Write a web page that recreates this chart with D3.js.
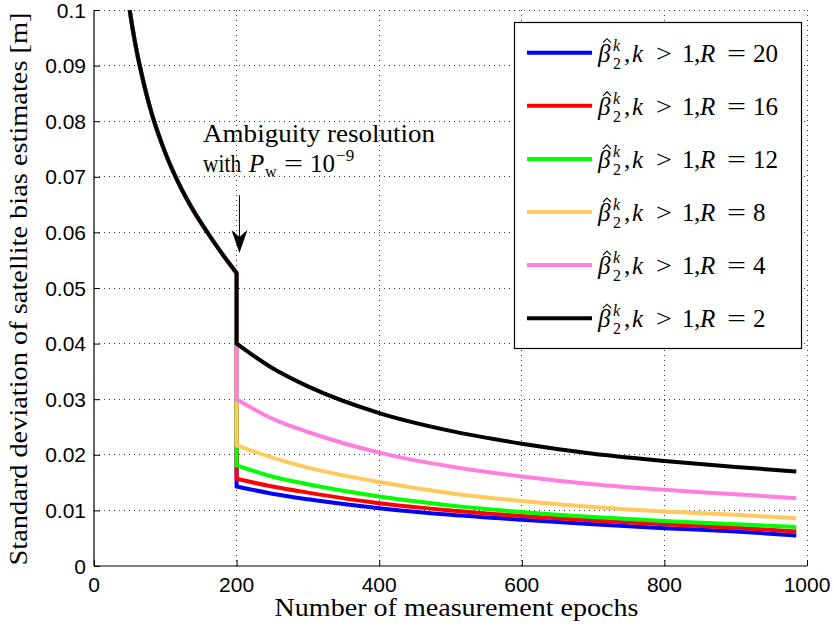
<!DOCTYPE html>
<html>
<head>
<meta charset="utf-8">
<script src="https://cdn.jsdelivr.net/npm/d3@7"></script>
<style>
  html, body { margin: 0; padding: 0; background: #fff; }
  svg { display: block; }
</style>
</head>
<body>
<svg id="chart" width="834" height="630"></svg>
<script>
// Float solution: shared curve before ambiguity resolution (epochs 50..200)
const epochsFloat = [50, 55, 60, 65, 70, 80, 90, 100, 120, 140, 160, 180, 200];
const sigmaFloat  = [0.1000, 0.0960, 0.0925, 0.0895, 0.0867, 0.0818, 0.0778, 0.0743, 0.0685, 0.0638, 0.0598, 0.0561, 0.0527];

// Fixed solution after ambiguity resolution, one series per R
const epochsFixed = [200, 250, 300, 400, 500, 600, 700, 800, 900, 985];
const sigmaR20 = [0.0143, 0.0130, 0.0120, 0.0104, 0.0092, 0.0083, 0.0075, 0.0068, 0.0062, 0.0055];
const sigmaR16 = [0.0157, 0.0143, 0.0132, 0.0113, 0.0100, 0.0090, 0.0082, 0.0075, 0.0069, 0.0062];
const sigmaR12 = [0.0181, 0.0161, 0.0147, 0.0125, 0.0109, 0.0097, 0.0088, 0.0081, 0.0075, 0.0070];
const sigmaR8  = [0.0217, 0.0195, 0.0177, 0.0151, 0.0131, 0.0117, 0.0106, 0.0098, 0.0092, 0.0086];
const sigmaR4  = [0.0300, 0.0265, 0.0241, 0.0204, 0.0179, 0.0161, 0.0147, 0.0137, 0.0129, 0.0122];
const sigmaR2  = [0.0400, 0.0356, 0.0323, 0.0275, 0.0243, 0.0220, 0.0202, 0.0189, 0.0178, 0.0170];

const seriesR      = [20, 16, 12, 8, 4, 2];
const seriesValues = [sigmaR20, sigmaR16, sigmaR12, sigmaR8, sigmaR4, sigmaR2];
const seriesColors = ["#0000ff", "#ff0000", "#00ff00", "#ffc95c", "#ff7fdf", "#000000"];

const xTicks = [0, 200, 400, 600, 800, 1000];
const yTicks = [0, 0.01, 0.02, 0.03, 0.04, 0.05, 0.06, 0.07, 0.08, 0.09, 0.1];

const svg = d3.select("#chart");
const plotLeft = 94, plotRight = 807, plotTop = 10, plotBottom = 566;

const x = d3.scaleLinear().domain([0, 1000]).range([plotLeft, plotRight]);
const y = d3.scaleLinear().domain([0, 0.1]).range([plotBottom, plotTop]);

const gridColor = "#3a3a3a";

// dotted grid
svg.append("g").selectAll("line").data(xTicks.slice(1)).join("line")
  .attr("x1", d => x(d)).attr("x2", d => x(d))
  .attr("y1", plotTop).attr("y2", plotBottom)
  .attr("stroke", gridColor).attr("stroke-width", 1)
  .attr("stroke-dasharray", "1,4").attr("shape-rendering", "crispEdges");
svg.append("g").selectAll("line").data(yTicks.slice(1)).join("line")
  .attr("x1", plotLeft).attr("x2", plotRight)
  .attr("y1", d => y(d)).attr("y2", d => y(d))
  .attr("stroke", gridColor).attr("stroke-width", 1)
  .attr("stroke-dasharray", "1,4").attr("shape-rendering", "crispEdges");

// axes (ticks pointing inward)
const xAxis = d3.axisTop(x).tickValues(xTicks).tickSize(6).tickFormat("");
const yAxis = d3.axisRight(y).tickValues(yTicks).tickSize(6).tickFormat("");
const gx = svg.append("g").attr("transform", `translate(0,${plotBottom})`).call(xAxis);
const gy = svg.append("g").attr("transform", `translate(${plotLeft},0)`).call(yAxis);
[gx, gy].forEach(g => {
  g.select(".domain").attr("stroke", "#000").attr("stroke-width", 1.2);
  g.selectAll(".tick line").attr("stroke", "#000");
});
gx.select(".domain").attr("d", `M${plotLeft},0H${plotRight}`);
gy.select(".domain").attr("d", `M0,${plotTop}V${plotBottom}`);

// tick labels
const tickFont = "'Liberation Sans', Arial, sans-serif";
svg.append("g").selectAll("text").data(xTicks).join("text")
  .attr("x", d => x(d)).attr("y", plotBottom + 26)
  .attr("text-anchor", "middle")
  .attr("font-family", tickFont).attr("font-size", 21)
  .text(d => d);
svg.append("g").selectAll("text").data(yTicks).join("text")
  .attr("x", plotLeft - 8).attr("y", d => y(d) + 7.5)
  .attr("text-anchor", "end")
  .attr("font-family", tickFont).attr("font-size", 21)
  .text(d => d3.format("~g")(d));

// axis titles
const serif = "'Liberation Serif', 'Times New Roman', serif";
svg.append("text")
  .attr("x", (plotLeft + plotRight) / 2 + 6).attr("y", 616)
  .attr("text-anchor", "middle")
  .attr("font-family", serif).attr("font-size", 25)
  .attr("textLength", 364).attr("lengthAdjust", "spacingAndGlyphs")
  .text("Number of measurement epochs");
svg.append("text")
  .attr("transform", `translate(27,${(plotTop + plotBottom) / 2 + 1}) rotate(-90)`)
  .attr("text-anchor", "middle")
  .attr("font-family", serif).attr("font-size", 25)
  .attr("textLength", 553).attr("lengthAdjust", "spacingAndGlyphs")
  .text("Standard deviation of satellite bias estimates [m]");

// curves
svg.append("clipPath").attr("id", "plot-clip")
  .append("rect").attr("x", plotLeft).attr("y", plotTop)
  .attr("width", plotRight - plotLeft).attr("height", plotBottom - plotTop);

const line = d3.line().x(d => x(d[0])).y(d => y(d[1])).curve(d3.curveMonotoneX);
const floatPts = epochsFloat.map((e, i) => [e, sigmaFloat[i]]);

const curves = svg.append("g").attr("clip-path", "url(#plot-clip)");
seriesValues.forEach((vals, si) => {
  const fixedPts = epochsFixed.map((e, i) => [e, vals[i]]);
  const d = line(floatPts) + "L" + line(fixedPts).slice(1);
  curves.append("path")
    .attr("d", d)
    .attr("fill", "none")
    .attr("stroke", seriesColors[si])
    .attr("stroke-width", 4)
    .attr("stroke-linejoin", "miter");
});

// annotation: ambiguity resolution
const annX = 153, annLine1 = 0.0762, annLine2 = 0.0708;
const arrowEpoch = 204, arrowFrom = 0.0667, arrowTo = 0.0563;
const ann = svg.append("g").attr("font-family", serif).attr("font-size", 25);
const a0 = x(annX), b1 = y(annLine1), b2 = y(annLine2);
ann.append("text").attr("x", a0).attr("y", b1)
  .attr("textLength", 232).attr("lengthAdjust", "spacingAndGlyphs")
  .text("Ambiguity resolution");
ann.append("text").attr("x", a0).attr("y", b2)
  .attr("textLength", 38).attr("lengthAdjust", "spacingAndGlyphs").text("with");
ann.append("text").attr("x", a0 + 46).attr("y", b2).attr("font-style", "italic").text("P");
ann.append("text").attr("x", a0 + 62).attr("y", b2 + 5).attr("font-size", 16).text("w");
ann.append("text").attr("x", a0 + 81).attr("y", b2)
  .attr("textLength", 19).attr("lengthAdjust", "spacingAndGlyphs").text("=");
ann.append("text").attr("x", a0 + 107).attr("y", b2).text("10");
ann.append("text").attr("x", a0 + 133).attr("y", b2 - 11).attr("font-size", 17).text("−9");

const ax = x(arrowEpoch), ay0 = y(arrowFrom), ay1 = y(arrowTo);
svg.append("line").attr("x1", ax).attr("x2", ax).attr("y1", ay0).attr("y2", ay1 - 14)
  .attr("stroke", "#000").attr("stroke-width", 1);
svg.append("path")
  .attr("d", `M${ax},${ay1} L${ax - 8},${ay1 - 23} L${ax},${ay1 - 16} L${ax + 8},${ay1 - 23} Z`)
  .attr("fill", "#000");

// legend
const lg = svg.append("g");
lg.append("rect").attr("x", 514.5).attr("y", 22.5).attr("width", 287).attr("height", 326)
  .attr("fill", "#fff").attr("stroke", "#000").attr("stroke-width", 1.2);

seriesR.forEach((R, i) => {
  const cy = 52.7 + i * 53.1;
  const g = lg.append("g").attr("font-family", serif).attr("font-size", 25);
  g.append("line").attr("x1", 527).attr("x2", 592).attr("y1", cy).attr("y2", cy)
    .attr("stroke", seriesColors[i]).attr("stroke-width", 4);
  const tx = 598, by = cy + 9;
  g.append("text").attr("x", tx).attr("y", by).attr("font-style", "italic").text("β");
  // circumflex accent over beta
  g.append("path")
    .attr("d", `M${tx + 5},${by - 19} L${tx + 9},${by - 23} L${tx + 13},${by - 19}`)
    .attr("fill", "none").attr("stroke", "#000").attr("stroke-width", 1.1);
  g.append("text").attr("x", tx + 15).attr("y", by - 11).attr("font-size", 16).attr("font-style", "italic").text("k");
  g.append("text").attr("x", tx + 15).attr("y", by + 7).attr("font-size", 16).text("2");
  g.append("text").attr("x", tx + 26).attr("y", by).text(",");
  g.append("text").attr("x", tx + 34).attr("y", by).attr("font-style", "italic").text("k");
  g.append("text").attr("x", tx + 58).attr("y", by)
    .attr("textLength", 16).attr("lengthAdjust", "spacingAndGlyphs").text(">");
  g.append("text").attr("x", tx + 84).attr("y", by).text("1");
  g.append("text").attr("x", tx + 96).attr("y", by).text(",");
  g.append("text").attr("x", tx + 102).attr("y", by).attr("font-style", "italic").text("R");
  g.append("text").attr("x", tx + 129).attr("y", by)
    .attr("textLength", 19).attr("lengthAdjust", "spacingAndGlyphs").text("=");
  g.append("text").attr("x", tx + 155).attr("y", by).text(R);
});
</script>
</body>
</html>
